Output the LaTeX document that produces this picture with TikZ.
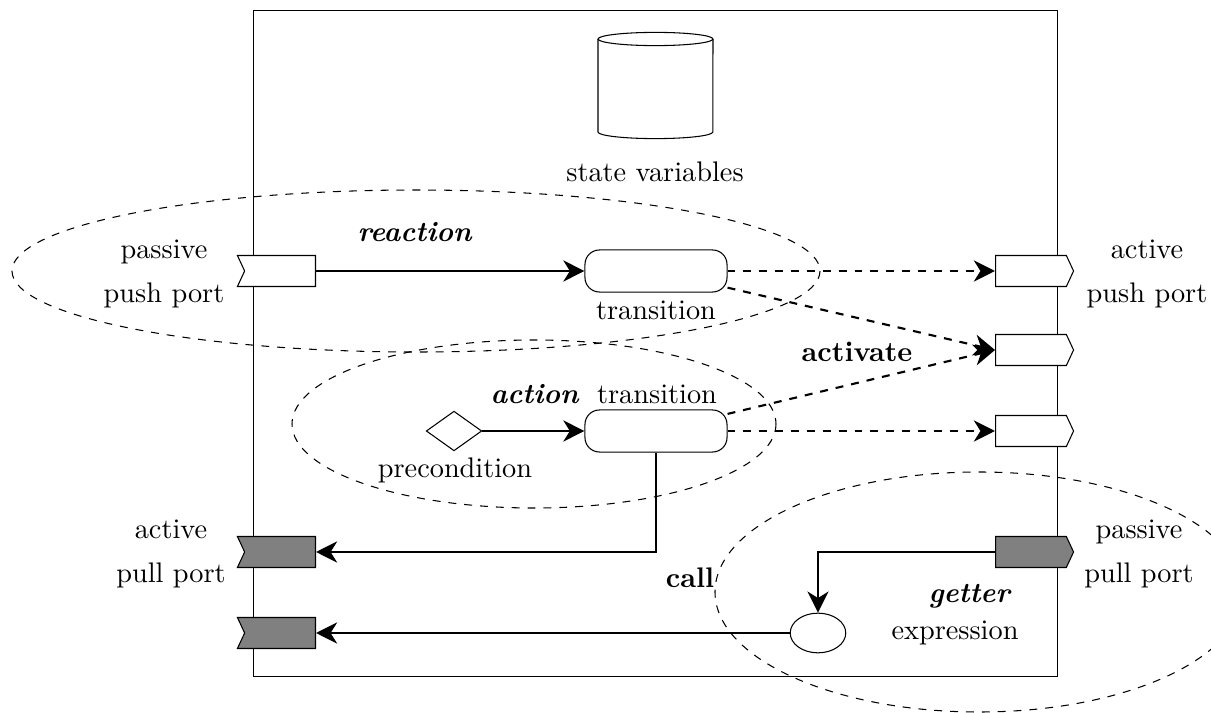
\documentclass[tikz,border=0pt]{standalone}
\usepackage{tikz}
\usetikzlibrary{positioning}
\usetikzlibrary{shapes.geometric}
\usetikzlibrary{shapes.symbols}
\usetikzlibrary{arrows.meta}
\definecolor{pg}{RGB}{128, 128, 128}
\begin{document}
\begin{tikzpicture}[x=0.378pt, y=-0.378pt,
  every node/.append style={font=\fontsize{10.7pt}{13pt}\selectfont},
  port/.style={signal, draw=black, fill=white, signal pointer angle=130, inner sep=0pt, minimum width=29.5pt, minimum height=11.7pt},
  inport/.style={port, signal from=west, signal to=nowhere},
  outport/.style={port, signal to=east},
  trans/.style={rectangle, rounded corners=5.5pt, draw=black, fill=white, minimum width=53.7pt, minimum height=15.9pt},
  flow/.style={line width=0.8pt, -{Stealth[length=8pt, width=8pt, inset=2.5pt]}},
  region/.style={dashed, line width=0.4pt},
  txt/.style={align=center, inner sep=0pt}]
\useasboundingbox (0,0) rectangle (1211,713);
% component frame and regions
\draw [line width=0.35pt] (253,10) rectangle (1057,676);
\draw [region] (416,271) ellipse [x radius=404, y radius=81];
\draw [region] (534,424) ellipse [x radius=242, y radius=84];
\draw [region] (979,592) ellipse [x radius=264, y radius=120];
% state
\draw (598,39) -- (598,132) arc [start angle=180, end angle=360, x radius=21.7pt, y radius=2.5pt] -- (713,39);
\draw (655.5,39) ellipse [x radius=21.7pt, y radius=2.5pt];
\node (storelbl) [txt] at (655,172) {state variables};
% ports
\node (pushin) [inport, anchor=east] at (316,271) {};
\node (pushout) [outport, anchor=west] at (995,271) {};
\node (actout) [outport, anchor=west] at (995,350) {};
\node (sideout) [outport, anchor=west] at (995,431) {};
\node (pullout) [inport, fill=pg, anchor=east] at (316,552) {};
\node (pullin) [outport, fill=pg, anchor=west] at (995,552) {};
\node (getout) [inport, fill=pg, anchor=east] at (316,633) {};
% inner elements
\node (react) [trans] at (656,271) {};
\node (act) [trans] at (656,431) {};
\node (pre) [diamond, draw=black, fill=white, aspect=1.4, inner sep=0pt, minimum width=21pt, minimum height=15pt] at (454,431) {};
\node (get) [ellipse, draw=black, fill=white, inner sep=0pt, minimum width=21pt, minimum height=15pt] at (818,633) {};
% labels
\node (pushinlbl) [txt] at (164,274) {passive\\[3.5pt]push port};
\node (pushoutlbl) [txt] at (1147,274) {active\\[3.5pt]push port};
\node (pulloutlbl) [txt] at (171,554) {active\\[3.5pt]pull port};
\node (pullinlbl) [txt] at (1139,554) {passive\\[3.5pt]pull port};
\node (reactlbl) [below=3pt of react, inner sep=0pt] {transition};
\node (actlbl) [txt] at (657,394) {transition};
\node (prelbl) [txt] at (455,470) {precondition};
\node (getlbl) [txt] at (955,633) {expression};
\node (kreact) [txt] at (415,232) {\textbf{\textit{reaction}}};
\node (kact) [txt] at (535,394) {\textbf{\textit{action}}};
\node (kget) [txt] at (970,596) {\textbf{\textit{getter}}};
\node (kactivate) [txt] at (857,352) {\textbf{activate}};
\node (kcall) [txt] at (690,578) {\textbf{call}};
% connectors
\draw [flow] (pushin) -- (react);
\draw [flow, dashed] (react) -- (pushout);
\draw [flow, dashed] (react) -- (actout.west);
\draw [flow, dashed] (act) -- (actout.west);
\draw [flow, dashed] (act) -- (sideout);
\draw [flow] (pre) -- (act);
\draw [flow] (act) |- (pullout);
\draw [flow] (pullin) -| (get);
\draw [flow] (get) -- (getout);
\end{tikzpicture}
\end{document}
